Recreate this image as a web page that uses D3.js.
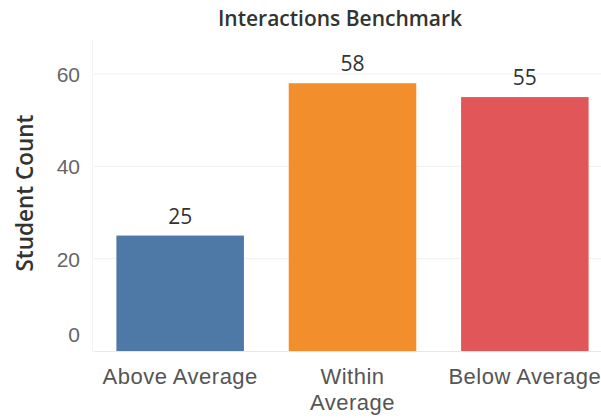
<!DOCTYPE html>
<html>
<head>
<meta charset="utf-8">
<script src="https://cdn.jsdelivr.net/npm/d3@7"></script>
<style>
  body { margin: 0; background: #fff; }
  svg { display: block; font-family: "Open Sans", "Noto Sans", sans-serif; }
</style>
</head>
<body>
<svg id="chart" width="601" height="418"></svg>
<script>
// chart values
const categories = ['Above Average', 'Within Average', 'Below Average'];
const counts = [25, 58, 55];
const barColors = ['#4e79a7', '#f28e2b', '#e15759'];
const yTicks = [0, 20, 40, 60];

const width = 601, height = 418;
const svg = d3.select('#chart');

const x = d3.scaleBand()
  .domain(categories)
  .range([94, 611])
  .paddingInner(0.26)
  .paddingOuter(0.13);

const y = d3.scaleLinear()
  .domain([0, 60])
  .range([351, 74]);

// gridlines
svg.append('g')
  .selectAll('line')
  .data(yTicks.filter(d => d !== 0))
  .join('line')
  .attr('x1', 94).attr('x2', width)
  .attr('y1', d => y(d)).attr('y2', d => y(d))
  .attr('stroke', '#f0f0f0')
  .attr('stroke-width', 1);

// faint y axis rule
svg.append('line')
  .attr('x1', 92.5).attr('x2', 92.5)
  .attr('y1', 40).attr('y2', 352)
  .attr('stroke', '#f3f3f3');

// bars
svg.append('g')
  .selectAll('rect')
  .data(categories)
  .join('rect')
  .attr('x', d => x(d))
  .attr('width', x.bandwidth())
  .attr('y', (d, i) => y(counts[i]))
  .attr('height', (d, i) => y(0) - y(counts[i]))
  .attr('fill', (d, i) => barColors[i]);

// zero line
svg.append('line')
  .attr('x1', 94).attr('x2', width)
  .attr('y1', y(0) + 0.5).attr('y2', y(0) + 0.5)
  .attr('stroke', '#e6e6e6');

// value labels
svg.append('g')
  .selectAll('text')
  .data(categories)
  .join('text')
  .attr('x', d => x(d) + x.bandwidth() / 2)
  .attr('y', (d, i) => y(counts[i]) - 12)
  .attr('text-anchor', 'middle')
  .attr('font-size', 21)
  .attr('fill', '#333')
  .text((d, i) => counts[i]);

// y axis
const yAxis = svg.append('g')
  .attr('transform', 'translate(80,0)')
  .call(d3.axisLeft(y).tickValues(yTicks).tickSize(0).tickPadding(0));
yAxis.select('.domain').remove();
yAxis.selectAll('text')
  .attr('font-size', 21)
  .attr('font-family', null)
  .attr('fill', '#666')
  .attr('dy', d => d === 0 ? '-0.45em' : '0.35em');

svg.append('text')
  .attr('transform', 'translate(33,193) rotate(-90)')
  .attr('text-anchor', 'middle')
  .attr('font-size', 22.5)
  .attr('font-weight', 600)
  .attr('fill', '#333')
  .text('Student Count');

// x axis labels (wrapped like the original)
const xAxis = svg.append('g')
  .attr('transform', `translate(0,${y(0)})`)
  .call(d3.axisBottom(x).tickSize(0).tickPadding(0));
xAxis.select('.domain').remove();
xAxis.selectAll('text').remove();
xAxis.selectAll('.tick')
  .append('text')
  .attr('text-anchor', 'middle')
  .attr('font-size', 22)
  .attr('letter-spacing', 0.5)
  .attr('fill', '#555')
  .each(function(d) {
    const lines = d === 'Within Average' ? ['Within', 'Average'] : [d];
    d3.select(this).selectAll('tspan')
      .data(lines)
      .join('tspan')
      .attr('x', 0)
      .attr('y', (l, i) => 33 + i * 26)
      .text(l => l);
  });

// title
svg.append('text')
  .attr('x', 340)
  .attr('y', 26)
  .attr('text-anchor', 'middle')
  .attr('font-size', 21)
  .attr('font-weight', 600)
  .attr('fill', '#333')
  .text('Interactions Benchmark');
</script>
</body>
</html>
